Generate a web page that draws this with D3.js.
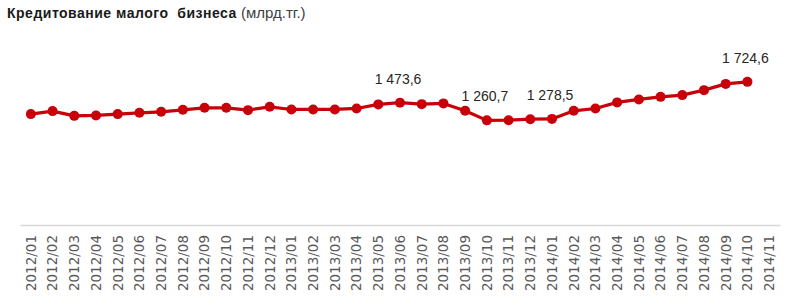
<!DOCTYPE html>
<html lang="ru">
<head>
    <meta charset="UTF-8">
    <title>Кредитование малого бизнеса</title>
    <script src="https://d3js.org/d3.v7.min.js"></script>
    <style>
        body { margin: 0; background: #fff; }
        svg { display: block; }
        .tick-label { font-family: "DejaVu Sans", sans-serif; font-size: 13.5px; fill: #595959; }
        .data-label { font-family: "Liberation Sans", Arial, sans-serif; font-size: 14px; fill: #262626; }
    </style>
</head>
<body>
<script>
    // Months on the category axis
    const months = [
        "2012/01", "2012/02", "2012/03", "2012/04", "2012/05", "2012/06", "2012/07", "2012/08", "2012/09", "2012/10", "2012/11", "2012/12",
        "2013/01", "2013/02", "2013/03", "2013/04", "2013/05", "2013/06", "2013/07", "2013/08", "2013/09", "2013/10", "2013/11", "2013/12",
        "2014/01", "2014/02", "2014/03", "2014/04", "2014/05", "2014/06", "2014/07", "2014/08", "2014/09", "2014/10", "2014/11"
    ];

    // Loans to small business, bn tenge (2014/11 has no value)
    const values = [
        1336, 1372, 1315, 1320, 1336, 1352, 1364, 1388, 1412, 1412, 1384, 1424,
        1392, 1392, 1392, 1404, 1453, 1473.6, 1456, 1465, 1376, 1260.7, 1263, 1275,
        1278.5, 1376, 1404, 1477, 1513, 1544, 1565, 1625, 1700, 1724.6
    ];

    // Points that carry a data label
    const labelled = ["2013/06", "2013/10", "2014/01", "2014/10"];

    const width = 800;
    const height = 306;
    const margin = {top: 59, right: 20, bottom: 81, left: 20};

    const svg = d3.select("body").append("svg")
        .attr("width", width)
        .attr("height", height);

    // Title: bold part plus unit in regular weight
    const title = svg.append("text")
        .attr("x", 7)
        .attr("y", 18)
        .style("font-family", "'Liberation Sans', Arial, sans-serif")
        .style("white-space", "pre")
        .attr("fill", "#1a1a1a");
    title.append("tspan")
        .style("font-weight", "bold")
        .style("font-size", "14px")
        .style("letter-spacing", "0.5px")
        .text("Кредитование малого  бизнеса");
    title.append("tspan")
        .style("font-size", "15px")
        .attr("fill", "#404040")
        .text(" (млрд.тг.)");

    const x = d3.scaleBand()
        .domain(months)
        .range([margin.left, width - margin.right]);

    const y = d3.scaleLinear()
        .domain([0, 2000])
        .range([height - margin.bottom, margin.top]);

    const cx = m => x(m) + x.bandwidth() / 2;

    // Category axis: light line, no ticks, vertical labels
    const xAxis = svg.append("g")
        .attr("transform", `translate(0, ${y(0)})`)
        .call(d3.axisBottom(x).tickSize(0).tickPadding(0));
    xAxis.select(".domain").attr("stroke", "#d9d9d9").attr("stroke-width", 1.5);
    xAxis.attr("font-family", null).attr("font-size", null);
    xAxis.selectAll(".tick text")
        .attr("class", "tick-label")
        .attr("transform", "rotate(-90)")
        .attr("x", -10)
        .attr("y", 0)
        .attr("dy", "0.36em")
        .attr("fill", null)
        .style("text-anchor", "end");

    const data = values.map((v, i) => ({month: months[i], value: v}));

    const line = d3.line()
        .x(d => cx(d.month))
        .y(d => y(d.value));

    svg.append("path")
        .datum(data)
        .attr("fill", "none")
        .attr("stroke", "#c8000a")
        .attr("stroke-width", 3.2)
        .attr("stroke-linejoin", "round")
        .attr("d", line);

    svg.selectAll("circle.pt")
        .data(data)
        .join("circle")
        .attr("class", "pt")
        .attr("cx", d => cx(d.month))
        .attr("cy", d => y(d.value))
        .attr("r", 5)
        .attr("fill", "#c8000a");

    // Data labels above selected points
    const fmt = v => d3.format(",.1f")(v).replace(",", " ").replace(".", ",");

    svg.selectAll("text.data-label")
        .data(data.filter(d => labelled.includes(d.month)))
        .join("text")
        .attr("class", "data-label")
        .attr("x", d => cx(d.month) - 2)
        .attr("y", d => y(d.value) - 19)
        .attr("text-anchor", "middle")
        .text(d => fmt(d.value));
</script>
</body>
</html>
